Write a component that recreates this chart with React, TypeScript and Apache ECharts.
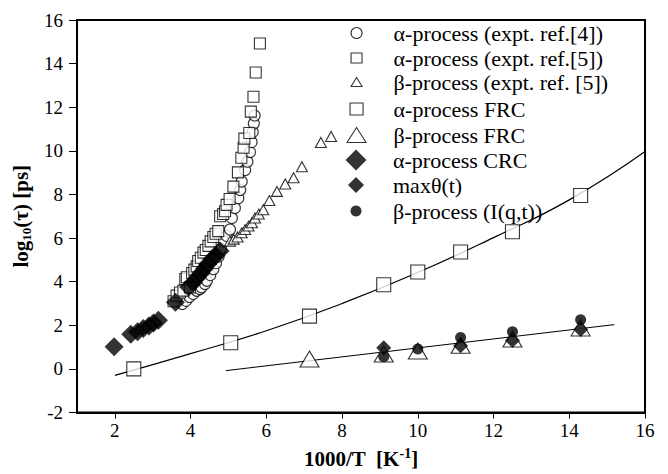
import React, { useEffect, useRef } from "react";
import * as echarts from "echarts";

// ---- data ----
const alphaRef4X = [3.78, 3.88, 3.97, 4.07, 4.16, 4.25, 4.29, 4.38, 4.43, 4.52, 4.6, 4.67, 4.74, 4.8, 4.87, 4.95, 5.04, 5.09, 5.17, 5.26, 5.31, 5.35, 5.44, 5.5, 5.57, 5.61, 5.64, 5.67, 5.69];
const alphaRef4Y = [2.98, 3.12, 3.3, 3.44, 3.58, 3.66, 3.74, 3.89, 4.04, 4.3, 4.57, 4.85, 5.15, 5.5, 5.86, 6.1, 6.39, 6.92, 7.38, 7.83, 8.2, 8.59, 9.12, 9.5, 9.95, 10.4, 10.86, 11.25, 11.62];

const alphaRef5X = [3.55, 3.63, 3.72, 3.81, 3.86, 3.9, 3.98, 4.04, 4.1, 4.16, 4.2, 4.27, 4.34, 4.4, 4.47, 4.53, 4.6, 4.66, 4.73, 4.78, 4.86, 4.91, 4.95, 5.03, 5.13, 5.25, 5.34, 5.4, 5.42, 5.55, 5.59, 5.66, 5.72, 5.83];
const alphaRef5Y = [3.1, 3.36, 3.5, 3.59, 4.12, 4.2, 3.74, 4.4, 4.55, 4.7, 4.95, 5.1, 5.33, 5.45, 5.64, 5.85, 6.05, 6.2, 6.32, 7.0, 7.1, 7.23, 7.52, 7.79, 8.36, 9.01, 9.68, 10.14, 10.56, 10.82, 11.8, 12.48, 13.59, 14.92];

const betaRef5X = [5.04, 5.14, 5.24, 5.35, 5.44, 5.53, 5.62, 5.7, 5.8, 5.92, 6.08, 6.28, 6.5, 6.72, 6.94, 7.44, 7.71];
const betaRef5Y = [5.86, 5.95, 6.05, 6.24, 6.39, 6.55, 6.7, 6.92, 7.1, 7.3, 7.72, 8.14, 8.48, 8.77, 9.27, 10.38, 10.66];

const alphaFrcX = [2.5, 5.06, 7.14, 9.1, 10.0, 11.13, 12.5, 14.3];
const alphaFrcY = [0.0, 1.2, 2.42, 3.86, 4.44, 5.36, 6.29, 7.95];

const betaFrcX = [7.14, 9.1, 10.0, 11.13, 12.5, 14.3];
const betaFrcY = [0.45, 0.68, 0.82, 1.08, 1.37, 1.88];

const alphaCrcX = [1.98, 2.42, 2.6, 2.75, 2.9, 3.02, 3.15, 3.6, 3.95, 4.07, 4.18, 4.28, 4.37, 4.45, 4.56, 4.67, 4.78];
const alphaCrcY = [1.01, 1.59, 1.7, 1.85, 1.97, 2.1, 2.23, 3.06, 3.75, 3.96, 4.2, 4.4, 4.6, 4.8, 5.03, 5.2, 5.41];

const maxThetaX = [9.1, 11.13, 12.5, 14.3];
const maxThetaY = [0.97, 1.06, 1.3, 1.81];

const betaIqtX = [9.1, 10.0, 11.13, 12.5, 14.3];
const betaIqtY = [0.56, 0.91, 1.44, 1.7, 2.25];

const alphaFitX = [2, 4, 6, 8, 10, 12, 14, 16];
const alphaFitY = [-0.3, 0.7, 1.75, 3.0, 4.42, 6.02, 7.75, 9.97];

const betaFitX = [4.93, 15.19];
const betaFitY = [-0.08, 2.03];

const xTicks = [2, 4, 6, 8, 10, 12, 14, 16];

const seriesNames = [
  "α-process (expt. ref.[4])",
  "α-process (expt. ref.[5])",
  "β-process (expt. ref. [5])",
  "α-process FRC",
  "β-process FRC",
  "α-process CRC",
  "maxθ(t)",
  "β-process (I(q,t))",
];

const FONT = "Liberation Serif";

const zip = (xs: number[], ys: number[]) => xs.map((x, i) => [x, ys[i]]);

const openStyle = { color: "#fff", borderColor: "#000", borderWidth: 1.1 };
const filledStyle = { color: "#000", borderColor: "#000", borderWidth: 0 };

// legend layout: [icon, w, h, centerY, filled]
const legendSpec: [string, number, number, number, boolean][] = [
  ["circle", 11, 11, 33, false],
  ["rect", 11, 10, 58, false],
  ["triangle", 11, 9, 82, false],
  ["rect", 13, 12, 109, false],
  ["triangle", 19, 15, 135, false],
  ["diamond", 21, 21, 160, true],
  ["diamond", 16, 16, 185, true],
  ["circle", 11, 11, 211, true],
];

export default function App() {
  const ref = useRef<HTMLDivElement>(null);
  useEffect(() => {
    const chart = echarts.init(ref.current!, null, { renderer: "svg" });
    const symCenterX = 356;
    const textStartX = 393;
    const legends = legendSpec.map(([icon, w, h, cy, filled], i) => {
      const left = symCenterX - w / 2;
      const padLeft = textStartX - (left + w + 5);
      return {
        show: true,
        orient: "vertical",
        left,
        top: cy - 11,
        padding: 0,
        itemWidth: w,
        itemHeight: h,
        selectedMode: false,
        data: [{ name: seriesNames[i], icon }],
        itemStyle: filled ? filledStyle : openStyle,
        textStyle: {
          fontFamily: FONT,
          fontSize: 22,
          lineHeight: 22,
          color: "#000",
          padding: [0, 0, 0, padLeft],
        },
      };
    });

    const option: any = {
      animation: false,
      backgroundColor: "#fff",
      textStyle: { fontFamily: FONT },
      legend: legends,
      grid: {
        left: 77,
        right: 23,
        top: 20,
        bottom: 58,
        show: true,
        borderColor: "#000",
        borderWidth: 2,
        containLabel: false,
      },
      xAxis: {
        type: "value",
        min: 1,
        max: 16,
        splitLine: { show: false },
        axisLine: { show: true, onZero: false, lineStyle: { color: "#000", width: 2 } },
        axisTick: {
          show: true,
          customValues: xTicks,
          length: 6,
          inside: false,
          lineStyle: { color: "#000", width: 1 },
        },
        axisLabel: {
          customValues: xTicks,
          margin: 8,
          fontFamily: FONT,
          fontSize: 19,
          color: "#000",
        },
        name: "{b|1000/T  [K}{s|-1}{b|]}",
        nameLocation: "middle",
        nameGap: 34,
        nameTextStyle: {
          fontFamily: FONT,
          rich: {
            b: { fontFamily: FONT, fontSize: 21, fontWeight: "bold", color: "#000", lineHeight: 24 },
            s: { fontFamily: FONT, fontSize: 14, fontWeight: "bold", color: "#000", lineHeight: 14, verticalAlign: "top" },
          },
        },
      },
      yAxis: {
        type: "value",
        min: -2,
        max: 16,
        interval: 2,
        splitLine: { show: false },
        axisLine: { show: true, onZero: false, lineStyle: { color: "#000", width: 2 } },
        axisTick: { show: true, length: 8, inside: false, lineStyle: { color: "#000", width: 1 } },
        axisLabel: {
          margin: 14,
          fontFamily: FONT,
          fontSize: 19,
          color: "#000",
        },
        name: "{b|log}{s|10}{b|(τ) [ps]}",
        nameLocation: "middle",
        nameGap: 42,
        nameTextStyle: {
          fontFamily: FONT,
          rich: {
            b: { fontFamily: FONT, fontSize: 21, fontWeight: "bold", color: "#000", lineHeight: 24 },
            s: { fontFamily: FONT, fontSize: 13, fontWeight: "bold", color: "#000", lineHeight: 13, verticalAlign: "bottom" },
          },
        },
      },
      series: [
        {
          name: "alphaFit",
          type: "line",
          data: zip(alphaFitX, alphaFitY),
          smooth: true,
          showSymbol: false,
          symbol: "none",
          lineStyle: { color: "#000", width: 1.2 },
          silent: true,
          z: 1,
        },
        {
          name: "betaFit",
          type: "line",
          data: zip(betaFitX, betaFitY),
          showSymbol: false,
          symbol: "none",
          lineStyle: { color: "#000", width: 1 },
          silent: true,
          z: 1,
        },
        {
          name: seriesNames[0],
          type: "scatter",
          symbol: "circle",
          symbolSize: 11,
          data: zip(alphaRef4X, alphaRef4Y),
          itemStyle: openStyle,
          z: 2,
        },
        {
          name: seriesNames[1],
          type: "scatter",
          symbol: "rect",
          symbolSize: 11,
          data: zip(alphaRef5X, alphaRef5Y),
          itemStyle: openStyle,
          z: 3,
        },
        {
          name: seriesNames[2],
          type: "scatter",
          symbol: "triangle",
          symbolSize: [11, 10],
          data: zip(betaRef5X, betaRef5Y),
          itemStyle: openStyle,
          z: 3,
        },
        {
          name: seriesNames[3],
          type: "scatter",
          symbol: "rect",
          symbolSize: 14,
          data: zip(alphaFrcX, alphaFrcY),
          itemStyle: openStyle,
          z: 4,
        },
        {
          name: seriesNames[4],
          type: "scatter",
          symbol: "triangle",
          symbolSize: [19, 16],
          data: zip(betaFrcX, betaFrcY),
          itemStyle: openStyle,
          z: 4,
        },
        {
          name: seriesNames[5],
          type: "scatter",
          symbol: "diamond",
          symbolSize: 19,
          data: zip(alphaCrcX, alphaCrcY),
          itemStyle: filledStyle,
          z: 5,
        },
        {
          name: seriesNames[6],
          type: "scatter",
          symbol: "diamond",
          symbolSize: 15,
          data: zip(maxThetaX, maxThetaY),
          itemStyle: filledStyle,
          z: 5,
        },
        {
          name: seriesNames[7],
          type: "scatter",
          symbol: "circle",
          symbolSize: 11,
          data: zip(betaIqtX, betaIqtY),
          itemStyle: filledStyle,
          z: 6,
        },
      ],
    };
    chart.setOption(option);
    return () => chart.dispose();
  }, []);
  return (
    <div
      ref={ref}
      style={{ position: "fixed", left: 0, top: 0, width: 668, height: 474, background: "#fff" }}
    />
  );
}
